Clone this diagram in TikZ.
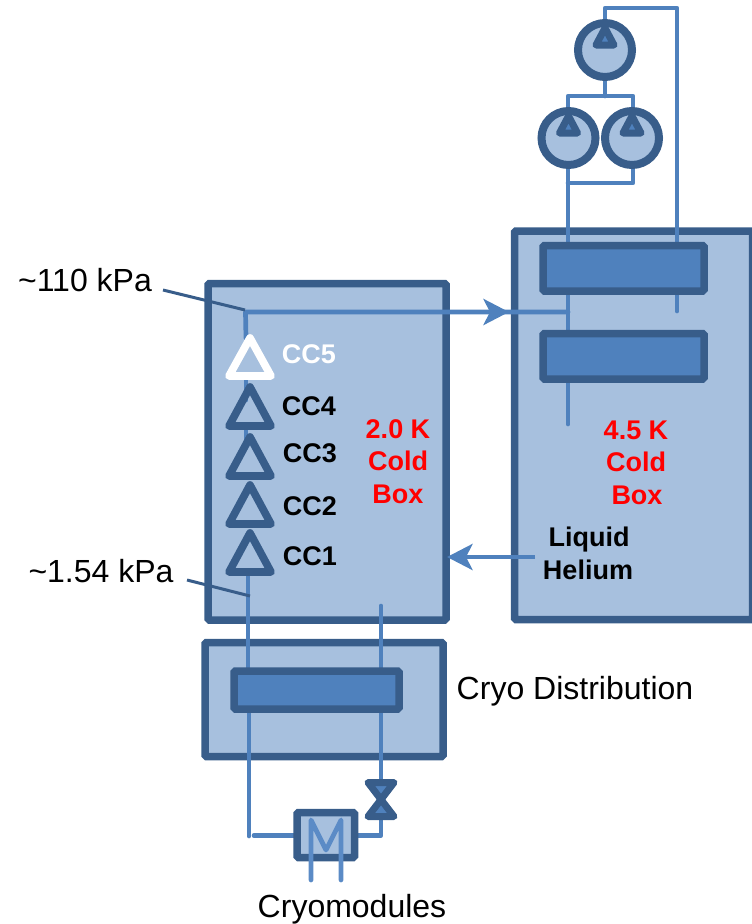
\documentclass[tikz,border=0pt]{standalone}
\usepackage{fontspec}
\setmainfont{Liberation Sans}
\usetikzlibrary{arrows.meta}
\definecolor{dk}{HTML}{385D8A}
\definecolor{md}{HTML}{4F81BD}
\definecolor{lt}{HTML}{A7C0DE}
\definecolor{mm}{HTML}{5B8BC6}
\pgfdeclarelayer{back}
\pgfdeclarelayer{pipes}
\pgfsetlayers{back,pipes,main}
\tikzset{
  coldbox/.style={draw=dk,fill=lt,line width=7.5pt,rounded corners=1.5pt,inner sep=0pt,outer sep=0pt},
  hx/.style={draw=dk,fill=md,line width=7.5pt,rounded corners=1.5pt,inner sep=0pt,outer sep=0pt},
  pump/.style={circle,draw=dk,fill=lt,line width=8pt,minimum size=54pt,inner sep=0pt,outer sep=0pt},
  pipe/.style={draw=md,line width=4.7pt,line cap=round,line join=round},
  leader/.style={draw=dk,line width=3pt},
  comp/.style={draw=dk,line width=7.7pt,line join=round},
  ptri/.style={draw=dk,fill=md,line width=7pt,line join=round},
  big/.style={font=\fontsize{32}{32}\selectfont,anchor=base,inner sep=0pt,text=black},
  bold/.style={font=\fontsize{27}{27}\selectfont\bfseries,anchor=base,inner sep=0pt,text=black},
  redt/.style={bold,text=red},
  head/.style={-{Stealth[length=25.5pt,width=26pt,inset=6.5pt]},draw=md,fill=md,line width=4.7pt}
}
\begin{document}
\begin{tikzpicture}[x=1pt,y=-1pt]
\useasboundingbox (0,0) rectangle (752,924);
% boxes
\begin{pgfonlayer}{back}
\node[coldbox,minimum width=238pt,minimum height=336.5pt] (left) at (327,451.75) {};
\node[coldbox,minimum width=238pt,minimum height=388.5pt] (right) at (633.5,425.25) {};
\node[coldbox,minimum width=238pt,minimum height=114pt] (dist) at (324,699.5) {};
\end{pgfonlayer}
% main components
\node[hx,minimum width=165pt,minimum height=38pt] (hxc) at (316.5,690) {};
\node[hx,minimum width=161pt,minimum height=45.5pt] (hxa) at (623.5,268.25) {};
\node[hx,minimum width=161pt,minimum height=45.5pt] (hxb) at (623.5,356.25) {};
\node[pump] (p1) at (605,50) {};
\node[pump] (p2) at (568.5,138) {};
\node[pump] (p3) at (632,138) {};
\foreach \c in {p1,p2,p3}{
  \path[ptri] ([yshift=22pt]\c.center) -- ([xshift=-9pt,yshift=5pt]\c.center) -- ([xshift=9pt,yshift=5pt]\c.center) -- cycle;
}
% compressors
\foreach \n/\ya/\yb in {5/338/376,4/387/426,3/437/476,2/485/524,1/533/572}{
  \coordinate (a\n) at (250,\ya);
  \coordinate (b\n) at (250,\yb);
  \ifnum\n=5
    \draw[comp,draw=white] (250,\ya) -- (271,\yb) -- (229,\yb) -- cycle;
  \else
    \draw[comp] (250,\ya) -- (271,\yb) -- (229,\yb) -- cycle;
  \fi
}
% valve and load
\draw[ptri] (368,782.5) -- (394,782.5) -- (368,816.5) -- (394,816.5) -- cycle;
\coordinate (vt) at (381,784);
\coordinate (vb) at (381,816);
\node[draw=dk,fill=lt,line width=7.5pt,rounded corners=1.5pt,minimum width=57.5pt,minimum height=45pt,inner sep=0pt,outer sep=0pt] (cm) at (325.75,835) {};
\draw[draw=mm,line width=4.7pt,line cap=round,line join=round] (311,880) -- (311,820) -- (326,850) -- (341,820) -- (341,880);
% pipes
\begin{pgfonlayer}{pipes}
\coordinate (t1) at (605,8);
\coordinate (t2) at (677,8);
\coordinate (e1) at (677,311);
\coordinate (j1) at (605,96);
\coordinate (j2) at (568,96);
\coordinate (j3) at (633,96);
\coordinate (j4) at (568,183);
\coordinate (j5) at (633,183);
\coordinate (e2) at (568,424);
\coordinate (c1) at (245.5,312);
\coordinate (c2) at (568,312);
\coordinate (l1) at (248,668);
\coordinate (l2) at (249,836);
\coordinate (l3) at (254,835.5);
\coordinate (r0) at (381,606);
\coordinate (r1) at (381,835.5);
\draw[pipe] (p1.center) -- (t1) -- (t2) -- (e1);
\draw[pipe] (p1.center) -- (j1);
\draw[pipe] (j2 |- p2.center) -- (j2) -- (j3) -- (j3 |- p3.center);
\draw[pipe] (j2 |- p2.center) -- (hxa.north -| j2);
\draw[pipe] (j3 |- p3.center) -- (j5) -- (j4);
\draw[pipe] (c2) -- (hxa.south -| c2);
\draw[pipe] (hxb.south -| e2) -- (e2);
\draw[pipe] (a5) ++(-4,0) -- (c1) -- (c2);
\draw[pipe] (246,376) -- (246,400);
\draw[pipe] (246,426) -- (246,440);
\draw[pipe] (248,572) -- (l1);
\draw[pipe] (249,709) -- (l2);
\draw[pipe] (l3) -- (cm.west |- l3);
\draw[pipe] (r0) -- (381,800);
\draw[pipe] (vb) -- (r1) -- (cm.east |- r1);
\draw[pipe] (c2) -- (hxb.north -| c2);
\end{pgfonlayer}
% arrowheads
\draw[head] (470,312) -- (509,312);
\draw[head] (535,557) -- (447,557);
% leaders
\draw[leader] (163,290) -- (245,310);
\draw[leader] (187,580) -- (250,596);
% text
\node[big] (t110) at (85,291) {\textasciitilde110 kPa};
\node[big] (t154) at (101,582) {\textasciitilde1.54 kPa};
\node[big] (tcd) at (575,699) {Cryo Distribution};
\node[big] (tcm) at (352,917) {Cryomodules};
\node[bold,text=white] (cc5) at (309,363) {CC5};
\node[bold] (cc4) at (309,415) {CC4};
\node[bold] (cc3) at (310,462) {CC3};
\node[bold] (cc2) at (310,515) {CC2};
\node[bold] (cc1) at (310,565) {CC1};
\node[redt] (r2a) at (398,438) {2.0 K};
\node[redt] (r2b) at (398,470) {Cold};
\node[redt] (r2c) at (398,503) {Box};
\node[redt] (r4a) at (636,439) {4.5 K};
\node[redt] (r4b) at (636,471) {Cold};
\node[redt] (r4c) at (637,504) {Box};
\node[bold] (lh1) at (589,546) {Liquid};
\node[bold] (lh2) at (588,579) {Helium};
\end{tikzpicture}
\end{document}
